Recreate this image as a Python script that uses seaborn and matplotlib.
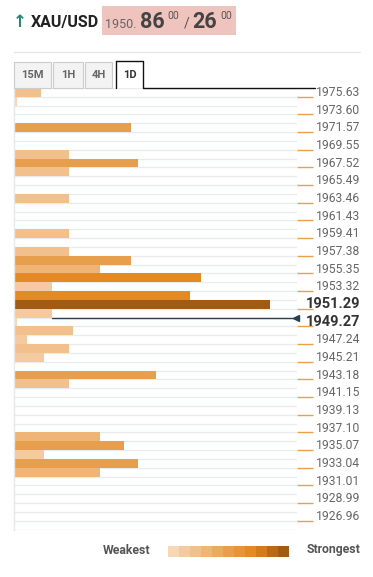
import numpy as np
import pandas as pd
import matplotlib
matplotlib.use("Agg")
import matplotlib.pyplot as plt
from matplotlib.patches import Rectangle
from matplotlib.colors import ListedColormap
import seaborn as sns

sns.set_style("white")
plt.rcParams['font.family'] = ['Roboto', 'DejaVu Sans']

# price labels shown on the right (one every second row, top to bottom)
price_labels = ['1975.63', '1973.60', '1971.57', '1969.55', '1967.52', '1965.49', '1963.46',
                '1961.43', '1959.41', '1957.38', '1955.35', '1953.32', '1951.29', '1949.27',
                '1947.24', '1945.21', '1943.18', '1941.15', '1939.13', '1937.10', '1935.07',
                '1933.04', '1931.01', '1928.99', '1926.96']
bold_labels = ['1951.29', '1949.27']

# confluence strength per row (50 rows, top to bottom)
strength = [27, 3, 0, 0, 117, 0, 0, 55, 124, 55,
            0, 0, 55, 0, 0, 0, 55, 0, 55, 117,
            86, 187, 38, 176, 256, 38, 3, 59, 13, 55,
            30, 0, 142, 55, 0, 0, 0, 0, 0, 86,
            110, 30, 124, 86, 0, 0, 0, 0, 0, 0]
# colour level per row (0 = weakest .. 10 = strongest)
level = [2, 0, 0, 0, 5, 0, 0, 2, 5, 2,
         0, 0, 2, 0, 0, 0, 2, 0, 2, 5,
         3, 7, 1, 7, 10, 1, 0, 2, 1, 2,
         1, 0, 5, 2, 0, 0, 0, 0, 0, 3,
         5, 1, 5, 3, 0, 0, 0, 0, 0, 0]
price_row = 25

scale_colors = ['#f7d7b6', '#f4caa0', '#f1c08c', '#eeb577', '#ebaa62', '#e89f4d',
                '#e6943a', '#e38a24', '#d27c1d', '#b86a18', '#a05b14']

W, H = 373, 577
fig = plt.figure(figsize=(W / 100, H / 100), dpi=100)

def fx(x):
    return x / W

def fy(y):
    return 1 - y / H

# main bar area
top, bottom, left, right = 88, 529.6, 14, 297
ax = fig.add_axes([fx(left), fy(bottom), fx(right - left), (bottom - top) / H])
n = len(strength)
df = pd.DataFrame({'row': np.arange(n), 'strength': strength,
                   'color': [scale_colors[l] for l in level]})
pal = dict(zip(df['row'], df['color']))
ax.hlines(np.arange(-0.5, n), 0, right - left, color='#e9ebef', lw=1, zorder=0)
sns.barplot(data=df, y='row', x='strength', hue='row', palette=pal, orient='h',
            width=1, linewidth=0, saturation=1, legend=False, ax=ax)
ax.set_xlim(0, right - left)
ax.set_ylim(n - 0.5, -0.5)
ax.set_xlabel('')
ax.set_ylabel('')
ax.set_xticks([])
for s in ['top', 'right', 'bottom']:
    ax.spines[s].set_visible(False)
ax.spines['left'].set_color('#e6e8eb')
ax.spines['left'].set_linewidth(1)

# current price line
ax.plot([strength[price_row], right - left], [price_row + 0.5] * 2, color='#2c3e56', lw=1, zorder=3)
ax.plot([right - left - 1.5], [price_row + 0.5], marker='<', ms=5, color='#2c3e56',
        clip_on=False, zorder=4)

# right-side ticks and labels
label_rows = np.arange(0, n, 2)[:len(price_labels)]
ax.set_yticks(label_rows + 0.5)
ax.set_yticklabels([])
ax.tick_params(axis='y', which='major', left=False, right=True, length=11.5, width=1,
               color='#e8a04a', direction='out')
xt = (360 - left) / (right - left)
for r, lab in zip(label_rows, price_labels):
    if lab in bold_labels:
        ax.text(xt, r, lab, transform=ax.get_yaxis_transform(), ha='right', va='center',
                fontsize=10.5, fontweight='bold', color='#333333')
    else:
        ax.text(xt, r, lab, transform=ax.get_yaxis_transform(), ha='right', va='center',
                fontsize=8.7, color='#666666')

# header
fig.text(fx(13), fy(22), '↑', fontsize=12, color='#1f8a70', fontweight='bold',
         va='center', family=['DejaVu Sans'])
fig.text(fx(31), fy(22), 'XAU/USD', fontsize=11.5, fontweight='bold', color='#222222', va='center')
fig.patches.append(Rectangle((fx(102), fy(35)), fx(134), 29 / H, transform=fig.transFigure,
                             facecolor='#efc4be', edgecolor='none'))
fig.text(fx(105), fy(24), '1950.', fontsize=9, color='#666666', va='center')
fig.text(fx(140), fy(22), '86', fontsize=15.5, fontweight='bold', color='#444444', va='center')
fig.text(fx(167), fy(16), '00', fontsize=7.5, color='#555555', va='center')
fig.text(fx(184), fy(24), '/', fontsize=10, color='#555555', va='center')
fig.text(fx(192), fy(22), '26', fontsize=15.5, fontweight='bold', color='#444444', va='center')
fig.text(fx(220), fy(16), '00', fontsize=7.5, color='#555555', va='center')
fig.add_artist(plt.Line2D([fx(14), fx(360)], [fy(51.5)] * 2, color='#e6e6e6', lw=1))

# timeframe tabs
tabs = [('15M', 14, 51), ('1H', 53, 83), ('4H', 85, 112)]
for t, x0, x1 in tabs:
    fig.patches.append(Rectangle((fx(x0), fy(87.5)), fx(x1 - x0), 26 / H, transform=fig.transFigure,
                                 facecolor='#f3f3f3', edgecolor='#cccccc', lw=0.8))
    fig.text(fx((x0 + x1) / 2), fy(75), t, fontsize=8, fontweight='bold', color='#666666',
             ha='center', va='center')
fig.add_artist(plt.Line2D([fx(116), fx(116), fx(143), fx(143), fx(315)],
                          [fy(87.5), fy(61), fy(61), fy(87.5), fy(87.5)], color='#111111', lw=1))
fig.text(fx(129.5), fy(75), '1D', fontsize=8, fontweight='bold', color='#333333',
         ha='center', va='center')

# strength scale legend
lax = fig.add_axes([fx(168), fy(557), fx(121), 11 / H])
lax.imshow(np.arange(len(scale_colors))[None, :], cmap=ListedColormap(scale_colors), aspect='auto')
lax.axis('off')
fig.text(fx(150), fy(550), 'Weakest', fontsize=8.8, fontweight='bold', color='#555555',
         ha='right', va='center')
fig.text(fx(307), fy(550), 'Strongest', fontsize=8.8, fontweight='bold', color='#555555',
         ha='left', va='center')

fig.savefig('out.png', dpi=100)
